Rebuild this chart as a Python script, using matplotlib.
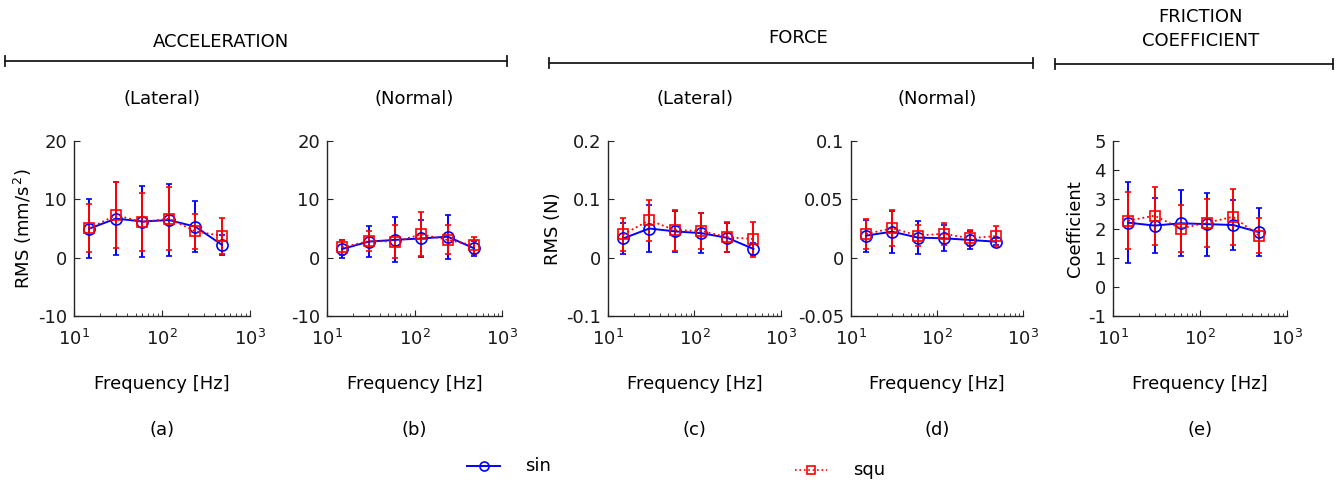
import numpy as np
import matplotlib
matplotlib.use("Agg")
import matplotlib.pyplot as plt
from matplotlib.lines import Line2D
from matplotlib.ticker import FuncFormatter, LogLocator, NullFormatter

plt.rcParams['font.family'] = 'DejaVu Sans'
plt.rcParams['axes.unicode_minus'] = False

# --- data ---
freq = [15, 30, 60, 120, 240, 480]

acc_lat_sin = [5.0, 6.7, 6.2, 6.45, 5.3, 2.2]
acc_lat_sin_err = [5.1, 6.2, 6.05, 6.1, 4.4, 1.7]
acc_lat_squ = [5.05, 7.3, 6.1, 6.7, 4.5, 3.75]
acc_lat_squ_err = [4.1, 5.6, 5.0, 5.35, 3.0, 3.1]

acc_nor_sin = [1.5, 2.75, 3.05, 3.3, 3.6, 1.6]
acc_nor_sin_err = [1.6, 2.6, 3.85, 3.2, 3.8, 1.3]
acc_nor_squ = [1.75, 2.85, 2.75, 4.0, 3.05, 2.1]
acc_nor_squ_err = [1.35, 1.7, 2.8, 3.75, 2.5, 1.5]

frc_lat_sin = [0.033, 0.050, 0.045, 0.042, 0.034, 0.015]
frc_lat_sin_err = [0.027, 0.041, 0.035, 0.034, 0.025, 0.011]
frc_lat_squ = [0.040, 0.064, 0.047, 0.046, 0.035, 0.032]
frc_lat_squ_err = [0.028, 0.035, 0.035, 0.031, 0.026, 0.030]

frc_nor_sin = [0.0189, 0.0223, 0.0172, 0.0166, 0.0152, 0.0137]
frc_nor_sin_err = [0.0138, 0.018, 0.014, 0.011, 0.0075, 0.003]
frc_nor_squ = [0.0203, 0.0252, 0.0190, 0.0205, 0.0166, 0.0185]
frc_nor_squ_err = [0.013, 0.0155, 0.0093, 0.0095, 0.007, 0.0085]

fric_sin = [2.2, 2.1, 2.18, 2.15, 2.12, 1.87]
fric_sin_err = [1.38, 0.93, 1.13, 1.08, 0.85, 0.82]
fric_squ = [2.27, 2.44, 2.0, 2.2, 2.4, 1.75]
fric_squ_err = [0.98, 0.99, 0.82, 0.82, 0.97, 0.6]

panels = [
    (acc_lat_sin, acc_lat_sin_err, acc_lat_squ, acc_lat_squ_err, (-10, 20), [-10, 0, 10, 20], 'RMS (mm/s$^{\\,2}$)', '(Lateral)', '(a)'),
    (acc_nor_sin, acc_nor_sin_err, acc_nor_squ, acc_nor_squ_err, (-10, 20), [-10, 0, 10, 20], None, '(Normal)', '(b)'),
    (frc_lat_sin, frc_lat_sin_err, frc_lat_squ, frc_lat_squ_err, (-0.1, 0.2), [-0.1, 0, 0.1, 0.2], 'RMS (N)', '(Lateral)', '(c)'),
    (frc_nor_sin, frc_nor_sin_err, frc_nor_squ, frc_nor_squ_err, (-0.05, 0.1), [-0.05, 0, 0.05, 0.1], None, '(Normal)', '(d)'),
    (fric_sin, fric_sin_err, fric_squ, fric_squ_err, (-1, 5), [-1, 0, 1, 2, 3, 4, 5], 'Coefficient', None, '(e)'),
]

# axes left/right edges in pixels
edges = [(74, 250), (327, 502), (608, 781), (851, 1023), (1113, 1287)]
W, H = 1338, 480
top_px, bot_px = 141, 316

fig = plt.figure(figsize=(W / 100, H / 100), dpi=100)
fs = 13

for (s, se, q, qe, ylim, yt, ylab, sub, tag), (l, r) in zip(panels, edges):
    ax = fig.add_axes([l / W, (H - bot_px) / H, (r - l) / W, (bot_px - top_px) / H])
    ax.errorbar(freq, s, yerr=se, color='#0000ff', marker='o', ms=8, mfc='none',
                mew=1.2, lw=1.4, capsize=2.5, elinewidth=1.4, capthick=1.2)
    ax.errorbar(freq, q, yerr=qe, color='#ff0000', marker='s', ms=7, mfc='none',
                mew=1.2, lw=1.3, ls=':', capsize=2.5, elinewidth=1.4, capthick=1.2)
    ax.set_xscale('log')
    ax.set_xlim(10, 1000)
    ax.set_ylim(*ylim)
    ax.set_yticks(yt)
    ax.yaxis.set_major_formatter(FuncFormatter(lambda v, p: '%g' % v))
    ax.xaxis.set_minor_locator(LogLocator(base=10, subs=np.arange(2, 10)))
    ax.xaxis.set_minor_formatter(NullFormatter())
    for sp in ['top', 'right']:
        ax.spines[sp].set_visible(False)
    for sp in ['left', 'bottom']:
        ax.spines[sp].set_color('#262626')
        ax.spines[sp].set_linewidth(1.0)
    ax.tick_params(direction='in', which='major', length=4, labelsize=fs, colors='#262626',
                   labelcolor='#1a1a1a', pad=5)
    ax.tick_params(axis='x', which='major', pad=9)
    ax.tick_params(direction='in', which='minor', length=2.5, colors='#262626')
    ax.set_xlabel('Frequency [Hz]', fontsize=fs, labelpad=19)
    if ylab:
        ax.set_ylabel(ylab, fontsize=fs, labelpad=3)
    cx = (l + r) / 2 / W
    if sub:
        fig.text(cx, 1 - 99 / H, sub, ha='center', va='center', fontsize=fs)
    fig.text(cx, 1 - 430 / H, tag, ha='center', va='center', fontsize=fs)

# group brackets: name, line start, line end, line y, text centre x, text y
groups = [('ACCELERATION', 5, 507, 61, 221, 42), ('FORCE', 549, 1033, 63, 798, 38),
          ('FRICTION\nCOEFFICIENT', 1055, 1333, 64, 1201, 29)]
for name, x0, x1, yl, tx, ty in groups:
    y = 1 - yl / H
    fig.add_artist(Line2D([x0 / W, x1 / W], [y, y], color='#1a1a1a', lw=1.3))
    for xe in (x0, x1):
        fig.add_artist(Line2D([xe / W, xe / W], [y - 5 / H, y + 5 / H], color='#1a1a1a', lw=1.3))
    fig.text(tx / W, 1 - ty / H, name, ha='center', va='center', fontsize=fs, linespacing=1.4)

# legend
ly1 = 1 - 466 / H
fig.add_artist(Line2D([467 / W, 500 / W], [ly1, ly1], color='#0000ff', lw=1.4))
fig.add_artist(Line2D([483.5 / W], [ly1], color='#0000ff', marker='o', ms=6.5, mfc='none', mew=1.2))
fig.text(525 / W, ly1, 'sin', ha='left', va='center', fontsize=fs)
ly2 = 1 - 470 / H
fig.add_artist(Line2D([795 / W, 827 / W], [ly2, ly2], color='#ff0000', lw=1.2, ls=':'))
fig.add_artist(Line2D([811 / W], [ly2], color='#ff0000', marker='s', ms=5.5, mfc='none', mew=1.2))
fig.text(853 / W, ly2, 'squ', ha='left', va='center', fontsize=fs)

fig.savefig('out.png', dpi=100)
